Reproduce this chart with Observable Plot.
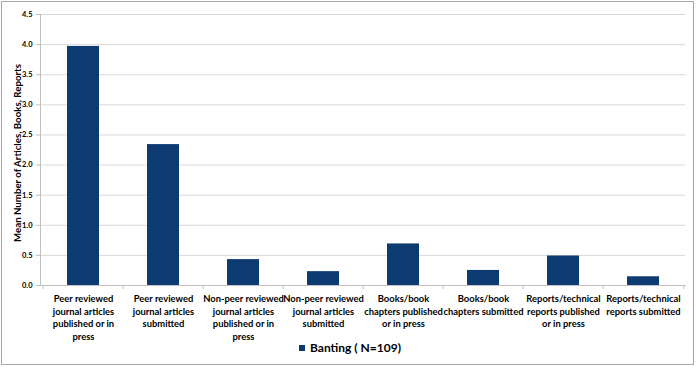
<!DOCTYPE html>
<html><head><meta charset="utf-8">
<script src="https://cdn.jsdelivr.net/npm/d3@7"></script>
<script src="https://cdn.jsdelivr.net/npm/@observablehq/plot@0.6"></script>
<style>
body{margin:0;background:#fff;font-family:Lato,sans-serif;}
#wrap{position:relative;width:700px;height:374px;background:#fff;}
#frame{position:absolute;left:1px;top:1px;width:693px;height:364px;border:1px solid #a6a6a6;box-sizing:border-box;}
#chart{position:absolute;left:0;top:0;}
#legend{position:absolute;left:0;top:340px;width:700px;text-align:center;font:bold 12px Lato,sans-serif;color:#000;line-height:16px;}
#legend .sw{display:inline-block;width:6px;height:6px;margin-right:5px;vertical-align:1px;}
</style></head>
<body><div id="wrap"><div id="frame"></div><div id="chart"></div><div id="legend"></div></div>
<script>
const categories = ["PR published","PR submitted","NPR published","NPR submitted","Books published","Books submitted","Reports published","Reports submitted"];
const values = [3.97, 2.34, 0.43, 0.23, 0.69, 0.25, 0.49, 0.145];
const tickLabels = [
  "Peer reviewed\njournal articles\npublished or in\npress",
  "Peer reviewed\njournal articles\nsubmitted",
  "Non-peer reviewed\njournal articles\npublished or in\npress",
  "Non-peer reviewed\njournal articles\nsubmitted",
  "Books/book\nchapters published\nor in press",
  "Books/book\nchapters submitted",
  "Reports/technical\nreports published\nor in press",
  "Reports/technical\nreports submitted"
];
const yTicks = [0, 0.5, 1, 1.5, 2, 2.5, 3, 3.5, 4, 4.5];
const seriesName = "Banting ( N=109)";
const yLabel = "Mean Number of Articles, Books, Reports";
const barColor = "#0e3a72";

const data = categories.map((c, i) => ({category: c, value: values[i]}));
const labelOf = new Map(categories.map((c, i) => [c, tickLabels[i]]));
const W = 700, mL = 40, mR = 15;
const step = (W - mL - mR) / categories.length;

const plot = Plot.plot({
  width: W, height: 345, marginLeft: mL, marginRight: mR, marginTop: 14, marginBottom: 60,
  style: {fontFamily: "Lato, sans-serif", fontWeight: "bold", color: "#000", background: "transparent"},
  x: {domain: categories, paddingInner: 0.6, paddingOuter: 0.3},
  y: {domain: [0, 4.5]},
  marks: [
    Plot.gridY(yTicks, {stroke: "#d9d9d9", strokeOpacity: 1}),
    Plot.barY(data, {x: "category", y: "value", fill: barColor}),
    Plot.frame({anchor: "left", stroke: "#bfbfbf"}),
    Plot.frame({anchor: "bottom", stroke: "#bfbfbf"}),
    Plot.axisY(yTicks, {tickFormat: d3.format(".1f"), tickSize: 4, tickPadding: 4, stroke: "#bfbfbf", fontSize: 7.5, label: null}),
    Plot.axisX(categories, {tickSize: 4, dx: -step / 2, stroke: "#bfbfbf", tickFormat: () => "", label: null}),
    Plot.axisX([categories[categories.length - 1]], {tickSize: 4, dx: step / 2, stroke: "#bfbfbf", tickFormat: () => "", label: null}),
    Plot.axisX(categories, {tickSize: 0, tickPadding: 8, tickFormat: d => labelOf.get(d), fontSize: 9.4, lineHeight: 1.33, label: null}),
    Plot.text([yLabel], {frameAnchor: "left", textAnchor: "middle", dx: -23, dy: 3, rotate: -90, fontSize: 9.7, fontWeight: "bold"})
  ]
});
document.getElementById("chart").appendChild(plot);

const lg = document.getElementById("legend");
const sw = document.createElement("span");
sw.className = "sw"; sw.style.background = barColor;
lg.appendChild(sw);
lg.appendChild(document.createTextNode(seriesName));
</script>
</body></html>
